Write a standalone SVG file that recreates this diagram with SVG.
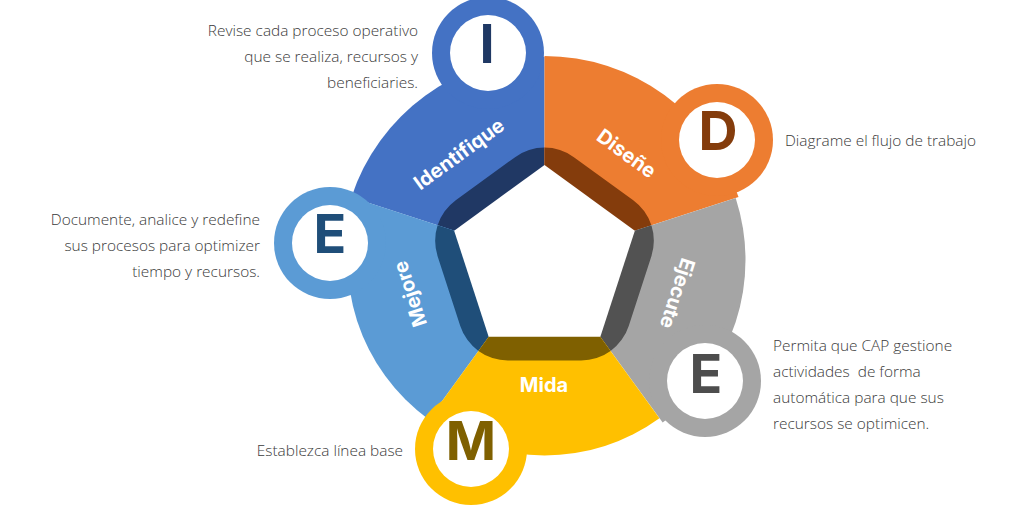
<svg xmlns="http://www.w3.org/2000/svg" width="1019" height="511" viewBox="0 0 1019 511">
<style>
.lbl{font-family:Inter,"Noto Sans",sans-serif;font-weight:700;font-size:20px;fill:#ffffff;text-anchor:middle}
.let{font-family:Inter,"Noto Sans",sans-serif;font-weight:700;font-size:54px;text-anchor:middle}
.desc{font-family:"Open Sans","Liberation Sans",sans-serif;font-size:15.4px;font-weight:300;fill:#3A3A3A}
.r{text-anchor:end}
.band{stroke-width:100;stroke-linejoin:round}
.hole{fill:#ffffff}
</style>
<defs>
<path id="rp" d="M544.5,197.6 L603.85,240.72 L581.18,310.48 L507.82,310.48 L485.15,240.72 Z"/>
<clipPath id="w1"><path d="M544.5,260 L259.18,167.29 L544.5,-40 Z"/></clipPath>
<clipPath id="w2"><path d="M544.5,260 L544.5,-40 L829.82,167.29 Z"/></clipPath>
<clipPath id="w3"><path d="M544.5,260 L829.82,167.29 L720.84,502.71 Z"/></clipPath>
<clipPath id="w4"><path d="M544.5,260 L720.84,502.71 L368.16,502.71 Z"/></clipPath>
<clipPath id="w5"><path d="M544.5,260 L368.16,502.71 L259.18,167.29 Z"/></clipPath>
</defs>
<rect width="1019" height="511" fill="#ffffff"/>

<g id="identifique">
<path d="M544.5,260 L351.43,197.27 A203,203 0 0 1 544.5,57 Z" fill="#4472C4"/>
<circle cx="488" cy="53" r="56" fill="#4472C4"/>
<use href="#rp" class="band" fill="#203864" stroke="#203864" clip-path="url(#w1)"/>
<circle cx="488" cy="53" r="38" class="hole"/>
<text x="487" y="63" class="let" fill="#1F3864">I</text>
<text transform="translate(459,154) rotate(-36)" x="0" y="7" class="lbl">Identifique</text>
</g>

<g id="disene">
<path d="M544.5,260 L544.5,56 A204,204 0 0 1 738.52,196.96 Z" fill="#ED7D31"/>
<circle cx="717" cy="140" r="56" fill="#ED7D31"/>
<use href="#rp" class="band" fill="#843C0C" stroke="#843C0C" clip-path="url(#w2)"/>
<circle cx="717" cy="140" r="38" class="hole"/>
<text x="718" y="150" class="let" fill="#843C0C">D</text>
<text transform="translate(626.5,153.5) rotate(36)" x="0" y="7" class="lbl">Diseñe</text>
</g>

<g id="ejecute">
<path d="M544.5,260 L735.66,197.89 A201,201 0 0 1 662.65,422.61 Z" fill="#A5A5A5"/>
<circle cx="705" cy="381" r="56" fill="#A5A5A5"/>
<use href="#rp" class="band" fill="#525252" stroke="#525252" clip-path="url(#w3)"/>
<circle cx="705" cy="381" r="38" class="hole"/>
<text x="706" y="393" class="let" fill="#4D4D4D">E</text>
<text transform="translate(677.5,293.5) rotate(108)" x="0" y="7" class="lbl">Ejecute</text>
</g>

<g id="mejore">
<path d="M544.5,260 L428.7,419.38 A197,197 0 0 1 357.14,199.12 Z" fill="#5B9BD5"/>
<circle cx="330" cy="243" r="56" fill="#5B9BD5"/>
<use href="#rp" class="band" fill="#1F4E79" stroke="#1F4E79" clip-path="url(#w5)"/>
<circle cx="330" cy="243" r="38" class="hole"/>
<text x="330" y="253" class="let" fill="#1F4E79">E</text>
<text transform="translate(410,294) rotate(-108)" x="0" y="7" class="lbl">Mejore</text>
</g>

<g id="mida">
<path d="M544.5,260 L659.41,418.16 A195.5,195.5 0 0 1 429.59,418.16 Z" fill="#FFC000"/>
<circle cx="471" cy="449" r="56" fill="#FFC000"/>
<use href="#rp" class="band" fill="#7F6000" stroke="#7F6000" clip-path="url(#w4)"/>
<circle cx="471" cy="449" r="38" class="hole"/>
<text x="471" y="460" class="let" fill="#7F6000">M</text>
<text x="544" y="391.5" class="lbl">Mida</text>
</g>

<path id="centro" d="M544.5,165 L634.85,230.64 L600.34,336.86 L488.66,336.86 L454.15,230.64 Z" fill="#ffffff"/>

<g id="textos">
<text class="desc r" x="418" y="36">Revise cada proceso operativo</text>
<text class="desc r" x="418" y="62">que se realiza, recursos y</text>
<text class="desc r" x="418" y="88">beneficiaries.</text>
<text class="desc" x="785" y="146">Diagrame el flujo de trabajo</text>
<text class="desc r" x="260" y="225">Documente, analice y redefine</text>
<text class="desc r" x="260" y="251">sus procesos para optimizer</text>
<text class="desc r" x="260" y="277">tiempo y recursos.</text>
<text class="desc" x="773" y="351">Permita que CAP gestione</text>
<text class="desc" x="773" y="377" xml:space="preserve">actividades  de forma</text>
<text class="desc" x="773" y="403">automática para que sus</text>
<text class="desc" x="773" y="429">recursos se optimicen.</text>
<text class="desc r" x="403" y="456">Establezca línea base</text>
</g>
</svg>
